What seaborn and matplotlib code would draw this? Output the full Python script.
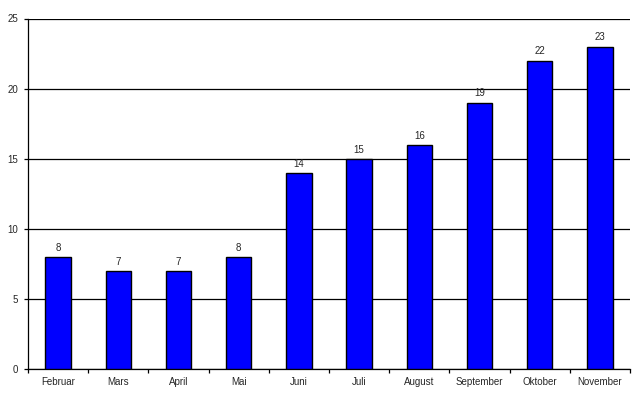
import matplotlib
matplotlib.use("Agg")
import matplotlib.pyplot as plt
import seaborn as sns
import pandas as pd

months = ["Februar", "Mars", "April", "Mai", "Juni", "Juli", "August",
          "September", "Oktober", "November"]
values = [8, 7, 7, 8, 14, 15, 16, 19, 22, 23]
yticks = [0, 5, 10, 15, 20, 25]

sns.set_theme(style="white")
plt.rcParams['font.family'] = ['Liberation Sans', 'DejaVu Sans']

df = pd.DataFrame({"month": months, "value": values})

fig = plt.figure(figsize=(6.41, 4.0), dpi=100)
ax = fig.add_axes([28/641, 31/400, 602/641, 350.5/400])

sns.barplot(data=df, x="month", y="value", color="#0000FF", saturation=1,
            edgecolor="black", linewidth=1.0, width=0.42, ax=ax, zorder=3)

ax.set_ylim(0, 25)
ax.set_xlim(-0.5, len(months) - 0.5)
ax.set_yticks(yticks)
ax.set_yticklabels([str(t) for t in yticks], fontsize=7)
ax.yaxis.grid(True, color="black", linewidth=0.9)
ax.set_axisbelow(True)
ax.set_xlabel("")
ax.set_ylabel("")
ax.tick_params(axis="x", length=0, labelsize=7, pad=6)
ax.tick_params(axis="y", length=3, width=0.9, color="black", direction="out", left=True, pad=4)
ax.set_xticks(range(len(months)))
ax.set_xticklabels(months)
# minor ticks between categories
ax.set_xticks([i + 0.5 for i in range(-1, len(months))], minor=True)
ax.tick_params(axis="x", which="minor", length=3, width=0.9, color="black", direction="out", bottom=True)

for s in ["top", "right"]:
    ax.spines[s].set_visible(False)
for s in ["left", "bottom"]:
    ax.spines[s].set_color("black")
    ax.spines[s].set_linewidth(0.9)

for i, v in enumerate(values):
    ax.annotate(str(v), (i, v), xytext=(0, 3), textcoords="offset points",
                ha="center", va="bottom", fontsize=7)

fig.savefig("out.png", dpi=100, facecolor="white")
